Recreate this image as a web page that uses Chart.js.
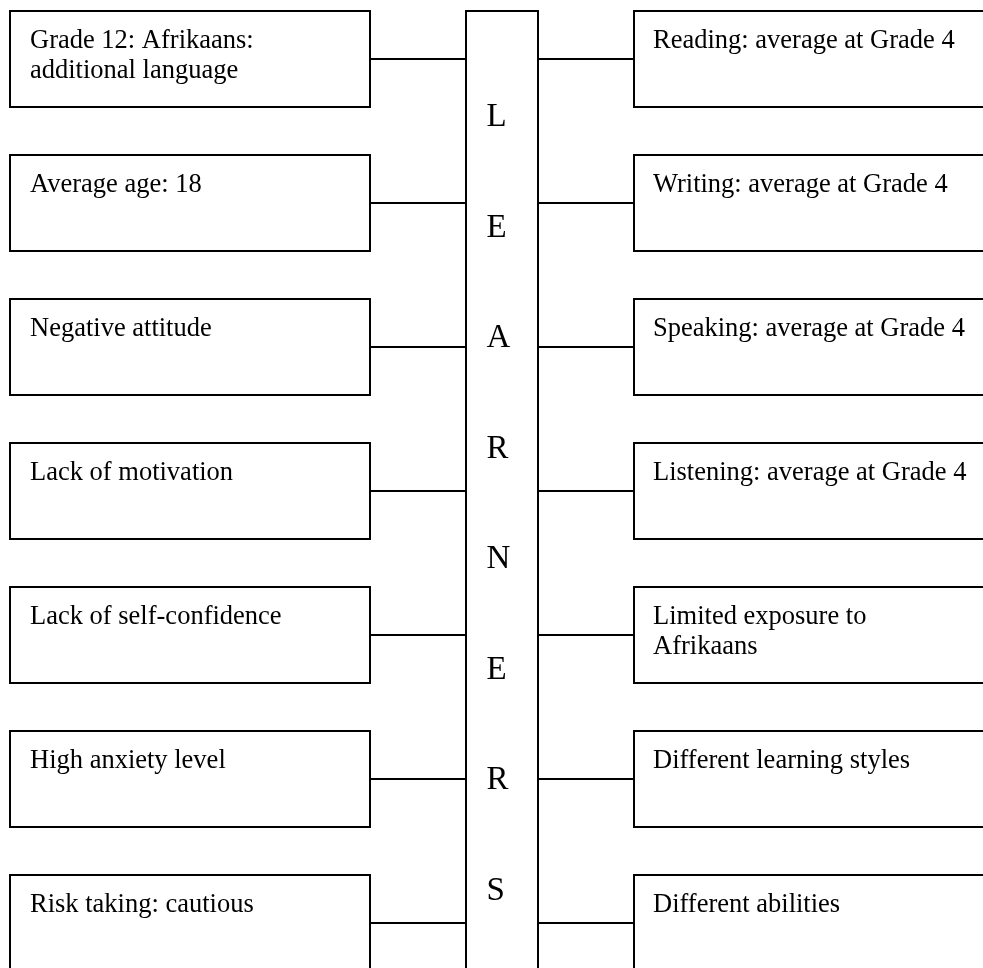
<!DOCTYPE html>
<html>
<head>
<meta charset="utf-8">
<script src="https://cdn.jsdelivr.net/npm/chart.js@4.4.0/dist/chart.umd.min.js"></script>
<style>
  html, body { margin: 0; padding: 0; background: #fff; overflow: hidden; }
  canvas { display: block; }
</style>
</head>
<body>
<canvas id="myChart" width="983" height="968"></canvas>
<script>
// boxes on the left, top to bottom (each entry = lines of text)
const leftLabels = [
    ['Grade 12: Afrikaans:', 'additional language'],
    ['Average age: 18'],
    ['Negative attitude'],
    ['Lack of motivation'],
    ['Lack of self-confidence'],
    ['High anxiety level'],
    ['Risk taking: cautious']
]
// boxes on the right
const rightLabels = [
    ['Reading: average at Grade 4'],
    ['Writing: average at Grade 4'],
    ['Speaking: average at Grade 4'],
    ['Listening: average at Grade 4'],
    ['Limited exposure to', 'Afrikaans'],
    ['Different learning styles'],
    ['Different abilities']
]
// letters down the middle column
const centerLetters = ['L', 'E', 'A', 'R', 'N', 'E', 'R', 'S']

// layout (canvas units, y grows downwards)
const W = 983, H = 968
const boxTop = 11, rowStep = 144, boxH = 96
const leftX = [10, 370], barX = [466, 538], rightX = [634, 1010]
const letterBase = 126, letterStep = 110.5
const lineGap = 30

const rect = (x0, x1, y0, y1) => [
    {x: x0, y: y0}, {x: x1, y: y0}, {x: x1, y: y1}, {x: x0, y: y1}, {x: x0, y: y0}
]

const datasets = []
const lineStyle = {
    showLine: true, fill: false, borderColor: '#000', borderWidth: 2,
    pointRadius: 0, borderJoinStyle: 'miter', borderCapStyle: 'square', tension: 0
}

// middle column, open at the bottom
datasets.push({ ...lineStyle, data: [
    {x: barX[0], y: H + 20}, {x: barX[0], y: boxTop},
    {x: barX[1], y: boxTop}, {x: barX[1], y: H + 20}
]})

leftLabels.forEach((lab, i) => {
    const top = boxTop + rowStep * i
    datasets.push({ ...lineStyle, data: rect(leftX[0], leftX[1], top, top + boxH) })
    datasets.push({ ...lineStyle, borderCapStyle: 'butt', data: [{x: leftX[1], y: top + boxH / 2}, {x: barX[0], y: top + boxH / 2}] })
})
rightLabels.forEach((lab, i) => {
    const top = boxTop + rowStep * i
    datasets.push({ ...lineStyle, data: rect(rightX[0], rightX[1], top, top + boxH) })
    datasets.push({ ...lineStyle, borderCapStyle: 'butt', data: [{x: barX[1], y: top + boxH / 2}, {x: rightX[0], y: top + boxH / 2}] })
})

const textPlugin = {
    id: 'boxText',
    afterDatasetsDraw(chart) {
        const ctx = chart.ctx
        const x = chart.scales.x, y = chart.scales.y
        ctx.save()
        ctx.fillStyle = '#000'
        ctx.textAlign = 'left'
        ctx.textBaseline = 'alphabetic'
        ctx.font = '26.5px "Liberation Serif", "Times New Roman", serif'
        leftLabels.forEach((lines, i) => {
            lines.forEach((t, j) => {
                ctx.fillText(t, x.getPixelForValue(leftX[0] + 20),
                    y.getPixelForValue(boxTop + rowStep * i + 37 + lineGap * j))
            })
        })
        rightLabels.forEach((lines, i) => {
            lines.forEach((t, j) => {
                ctx.fillText(t, x.getPixelForValue(rightX[0] + 19),
                    y.getPixelForValue(boxTop + rowStep * i + 37 + lineGap * j))
            })
        })
        ctx.font = '33px "Liberation Serif", "Times New Roman", serif'
        centerLetters.forEach((c, k) => {
            ctx.fillText(c, x.getPixelForValue(486.5), y.getPixelForValue(letterBase + letterStep * k))
        })
        ctx.restore()
    }
}

const draw = () => {
    const ctx = document.getElementById('myChart').getContext('2d')
    new Chart(ctx, {
        type: 'scatter',
        data: { datasets: datasets },
        options: {
            responsive: false,
            animation: false,
            events: [],
            layout: { padding: 0 },
            plugins: { legend: { display: false }, tooltip: { enabled: false } },
            scales: {
                x: { type: 'linear', min: 0, max: W, display: false },
                y: { type: 'linear', min: 0, max: H, reverse: true, display: false }
            }
        },
        plugins: [textPlugin]
    })
}

if (document.fonts && document.fonts.load) {
    Promise.all([
        document.fonts.load('26.5px "Liberation Serif"'),
        document.fonts.load('33px "Liberation Serif"')
    ]).then(draw, draw)
} else {
    draw()
}
</script>
</body>
</html>
